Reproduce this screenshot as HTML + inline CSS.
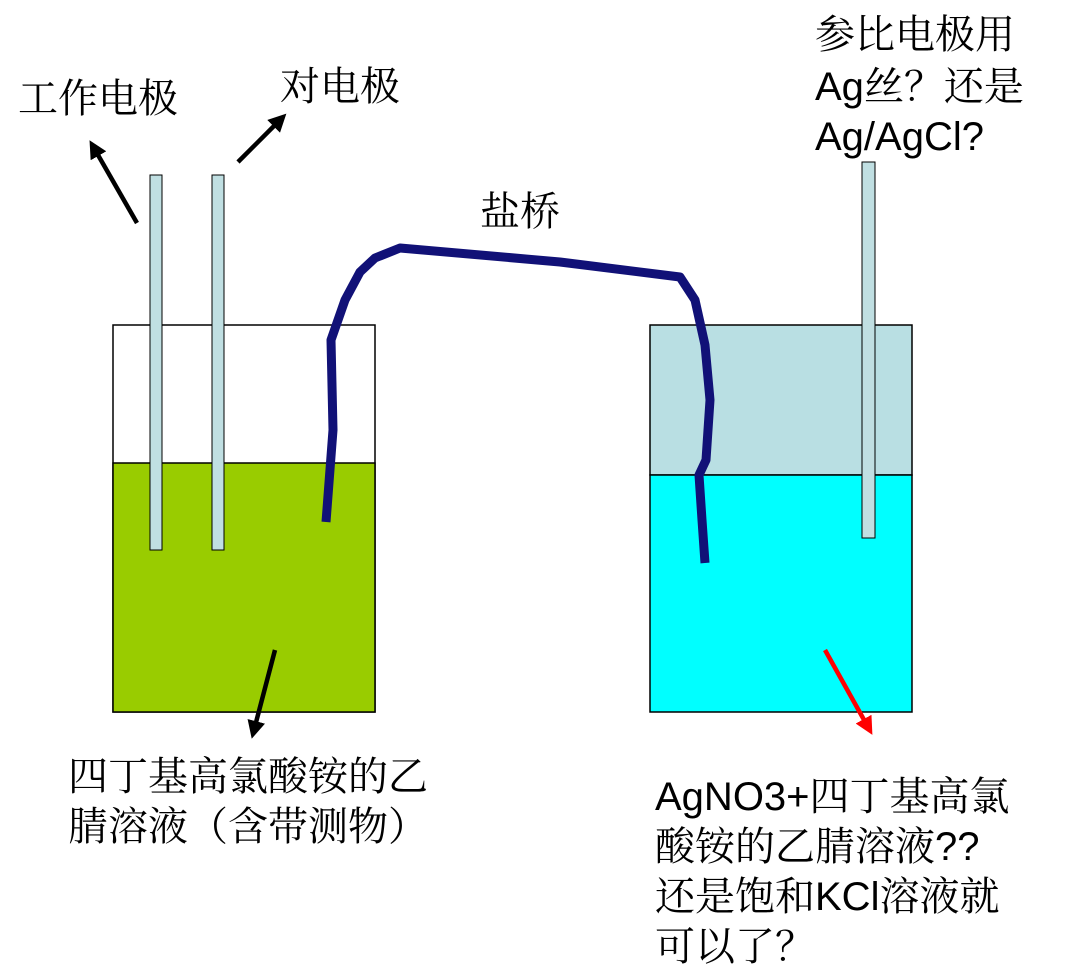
<!DOCTYPE html>
<html><head><meta charset="utf-8"><style>
html,body{margin:0;padding:0;background:#fff}
svg{display:block}
text{font-family:"Liberation Sans","Noto Serif CJK SC",serif;font-size:40px;fill:#000}
.b{font-family:"Liberation Sans",sans-serif}
</style></head><body>
<svg width="1088" height="978" viewBox="0 0 1088 978" xmlns="http://www.w3.org/2000/svg">
<defs>
<marker id="ab" markerWidth="4" markerHeight="4" refX="2" refY="2" orient="auto" markerUnits="strokeWidth"><path d="M0,0 L4,2 L0,4 z" fill="#000"/></marker>
<marker id="ar" markerWidth="4" markerHeight="4" refX="2" refY="2" orient="auto" markerUnits="strokeWidth"><path d="M0,0 L4,2 L0,4 z" fill="#f00"/></marker>
</defs>
<rect x="113" y="325" width="262" height="387" fill="#fff" stroke="#000" stroke-width="1.5"/>
<rect x="113" y="463" width="262" height="249" fill="#99cc00" stroke="#000" stroke-width="1.5"/>
<rect x="150" y="175" width="12" height="375" fill="#c0dfe2" stroke="#000" stroke-width="1"/>
<rect x="212" y="175" width="12" height="375" fill="#c0dfe2" stroke="#000" stroke-width="1"/>
<rect x="650" y="325" width="262" height="150" fill="#b9dfe3" stroke="#000" stroke-width="1.5"/>
<rect x="650" y="475" width="262" height="237" fill="#00ffff" stroke="#000" stroke-width="1.5"/>
<rect x="862" y="162" width="13" height="376" fill="#c0dfe2" stroke="#000" stroke-width="1"/>
<path d="M326,522 L333,430 L331,340 L345,300 L360,272 L375,258 L400,248 L560,262 L680,277 L695,300 L705,345 L710,400 L706,460 L699,475 L702,520 L705,563" fill="none" stroke="#111177" stroke-width="9" stroke-linejoin="round"/>
<line x1="137" y1="223" x2="94" y2="148" stroke="#000" stroke-width="4.5" marker-end="url(#ab)"/>
<line x1="238" y1="162" x2="280" y2="120" stroke="#000" stroke-width="4.5" marker-end="url(#ab)"/>
<line x1="275" y1="650" x2="254" y2="730" stroke="#000" stroke-width="4.5" marker-end="url(#ab)"/>
<line x1="825" y1="650" x2="868" y2="727" stroke="#f00" stroke-width="4.5" marker-end="url(#ar)"/>
<text x="18" y="112">工作电极</text>
<text x="280" y="100">对电极</text>
<text x="480" y="225">盐桥</text>
<text x="815" y="48">参比电极用</text>
<text x="815" y="100"><tspan class="b">Ag</tspan>丝？还是</text>
<text x="815" y="150" class="b">Ag/AgCl?</text>
<text x="68" y="790">四丁基高氯酸铵的乙</text>
<text x="68" y="840">腈溶液（含带测物）</text>
<text x="655" y="810"><tspan class="b">AgNO3+</tspan>四丁基高氯</text>
<text x="655" y="860">酸铵的乙腈溶液<tspan class="b">??</tspan></text>
<text x="655" y="910">还是饱和<tspan class="b">KCl</tspan>溶液就</text>
<text x="655" y="960">可以了？</text>
</svg>
</body></html>
